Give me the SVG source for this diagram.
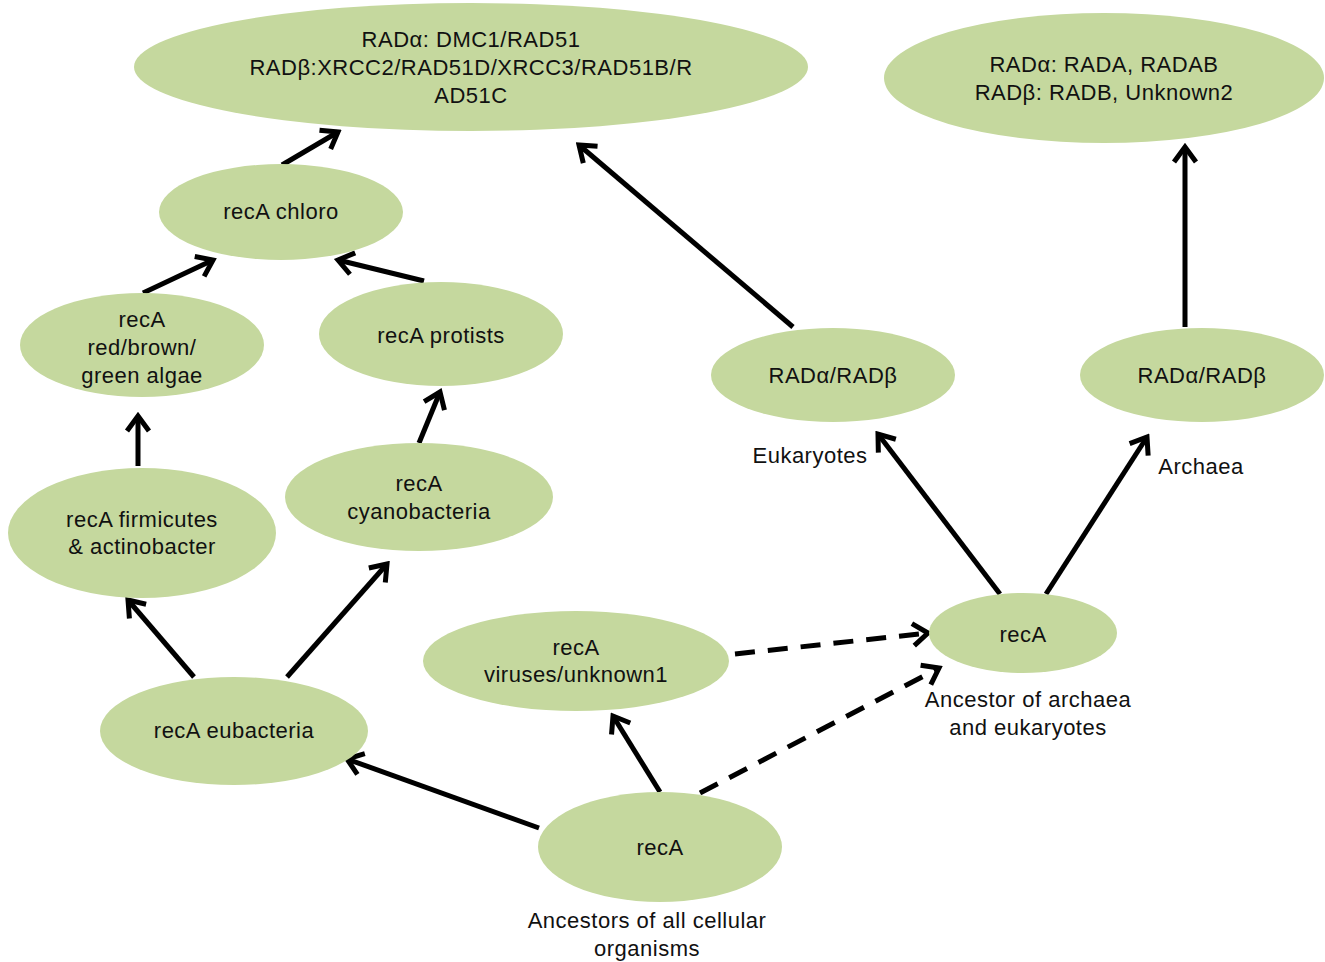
<svg xmlns="http://www.w3.org/2000/svg" width="1325" height="962" viewBox="0 0 1325 962">
<defs>
<style>
.n{fill:#c5d89e;stroke:none}
.t{font-family:"Liberation Sans",Arial,sans-serif;font-size:22px;letter-spacing:0.5px;fill:#111;text-anchor:middle}
.c{stroke:#000;stroke-width:5;fill:none;marker-end:url(#ah)}
.d{stroke-dasharray:20 13}
</style>
<marker id="ah" markerUnits="userSpaceOnUse" viewBox="-20 -14 24 28" markerWidth="24" markerHeight="28" refX="0" refY="0" orient="auto">
<path d="M-15,-11 L0,0 L-15,11" fill="none" stroke="#000" stroke-width="5" stroke-linejoin="miter"/>
</marker>
</defs>
<rect width="1325" height="962" fill="#fff"/>
<g id="connectors">
<line class="c" x1="282" y1="165" x2="338" y2="132"/>
<line class="c" x1="143" y1="293" x2="213" y2="260"/>
<line class="c" x1="424" y1="281" x2="338" y2="260"/>
<line class="c" x1="793" y1="327" x2="579" y2="145"/>
<line class="c" x1="1185" y1="327" x2="1185" y2="147"/>
<line class="c" x1="138" y1="466" x2="138" y2="416"/>
<line class="c" x1="419" y1="443" x2="440" y2="392"/>
<line class="c" x1="194" y1="677" x2="128" y2="600"/>
<line class="c" x1="287" y1="677" x2="387" y2="564"/>
<line class="c" x1="539" y1="828" x2="347" y2="759"/>
<line class="c" x1="660" y1="792" x2="613" y2="716"/>
<line class="c d" x1="700" y1="793" x2="939" y2="668"/>
<line class="c d" x1="735" y1="654" x2="928" y2="633"/>
<line class="c" x1="1000" y1="594" x2="878" y2="434"/>
<line class="c" x1="1046" y1="594" x2="1147" y2="437"/>
</g>
<g id="top-eukaryote">
<ellipse class="n" cx="471" cy="67" rx="337" ry="64"/>
<text class="t" x="471" y="47">RADα: DMC1/RAD51</text>
<text class="t" x="471" y="75">RADβ:XRCC2/RAD51D/XRCC3/RAD51B/R</text>
<text class="t" x="471" y="103">AD51C</text>
</g>
<g id="top-archaea">
<ellipse class="n" cx="1104" cy="78" rx="220" ry="65"/>
<text class="t" x="1104" y="72">RADα: RADA, RADAB</text>
<text class="t" x="1104" y="100">RADβ: RADB, Unknown2</text>
</g>
<g id="recA-chloro">
<ellipse class="n" cx="281" cy="212" rx="122" ry="48"/>
<text class="t" x="281" y="219">recA chloro</text>
</g>
<g id="recA-algae">
<ellipse class="n" cx="142" cy="345" rx="122" ry="52"/>
<text class="t" x="142" y="327">recA</text>
<text class="t" x="142" y="355">red/brown/</text>
<text class="t" x="142" y="383">green algae</text>
</g>
<g id="recA-protists">
<ellipse class="n" cx="441" cy="334" rx="122" ry="52"/>
<text class="t" x="441" y="343">recA protists</text>
</g>
<g id="rad-eukaryotes">
<ellipse class="n" cx="833" cy="375" rx="122" ry="47"/>
<text class="t" x="833" y="383">RADα/RADβ</text>
<text class="t" x="810" y="463">Eukaryotes</text>
</g>
<g id="rad-archaea">
<ellipse class="n" cx="1202" cy="375" rx="122" ry="47"/>
<text class="t" x="1202" y="383">RADα/RADβ</text>
<text class="t" x="1201" y="474">Archaea</text>
</g>
<g id="recA-firmicutes">
<ellipse class="n" cx="142" cy="533" rx="134" ry="65"/>
<text class="t" x="142" y="527">recA firmicutes</text>
<text class="t" x="142" y="554">&amp; actinobacter</text>
</g>
<g id="recA-cyano">
<ellipse class="n" cx="419" cy="497" rx="134" ry="54"/>
<text class="t" x="419" y="491">recA</text>
<text class="t" x="419" y="519">cyanobacteria</text>
</g>
<g id="recA-ancestor-ae">
<ellipse class="n" cx="1023" cy="633" rx="94" ry="40"/>
<text class="t" x="1023" y="642">recA</text>
<text class="t" x="1028" y="707">Ancestor of archaea</text>
<text class="t" x="1028" y="735">and eukaryotes</text>
</g>
<g id="recA-viruses">
<ellipse class="n" cx="576" cy="661" rx="153" ry="50"/>
<text class="t" x="576" y="655">recA</text>
<text class="t" x="576" y="682">viruses/unknown1</text>
</g>
<g id="recA-eubacteria">
<ellipse class="n" cx="234" cy="731" rx="134" ry="54"/>
<text class="t" x="234" y="738">recA eubacteria</text>
</g>
<g id="recA-root">
<ellipse class="n" cx="660" cy="847" rx="122" ry="55"/>
<text class="t" x="660" y="855">recA</text>
<text class="t" x="647" y="928">Ancestors of all cellular</text>
<text class="t" x="647" y="956">organisms</text>
</g>
</svg>
